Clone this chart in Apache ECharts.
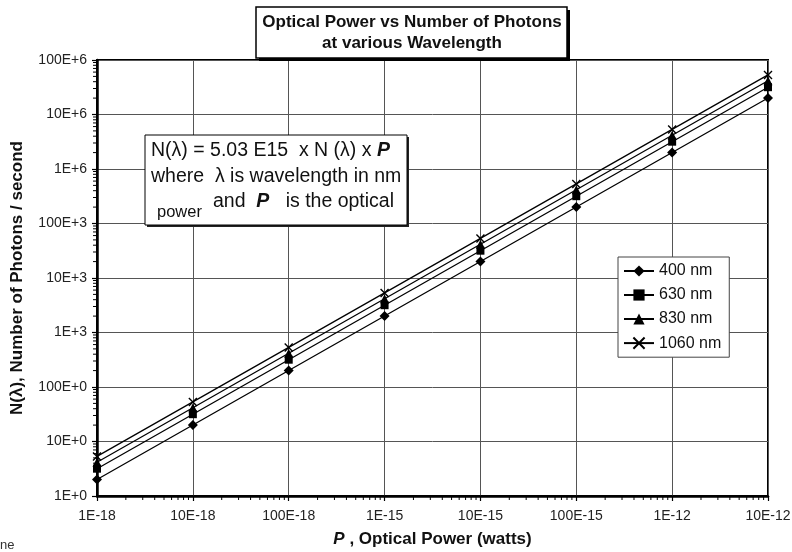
<!DOCTYPE html>
<html>
<head>
<meta charset="utf-8">
<script src="https://cdn.jsdelivr.net/npm/echarts@6/dist/echarts.min.js"></script>
<style>html,body{margin:0;padding:0;background:#fff;}#c{width:792px;height:552px;}</style>
</head>
<body>
<div id="c"></div>
<script>
// ---- data ----
const powers = [1e-18, 1e-17, 1e-16, 1e-15, 1e-14, 1e-13, 1e-12, 1e-11];
const n400  = [2.01, 20.1, 201, 2010, 20100, 201000, 2010000, 20100000];
const n630  = [3.17, 31.7, 317, 3170, 31700, 317000, 3170000, 31700000];
const n830  = [4.17, 41.7, 417, 4170, 41700, 417000, 4170000, 41700000];
const n1060 = [5.33, 53.3, 533, 5330, 53300, 533000, 5330000, 53300000];
const seriesNames = ['400 nm', '630 nm', '830 nm', '1060 nm'];
const xTickLabels = ['1E-18','10E-18','100E-18','1E-15','10E-15','100E-15','1E-12','10E-12'];
const yTickLabels = ['1E+0','10E+0','100E+0','1E+3','10E+3','100E+3','1E+6','10E+6','100E+6'];

const FONT = '"Liberation Sans", Arial, sans-serif';
const xMin = 1e-18, xMax = 1e-11, yMin = 1, yMax = 1e8;

function labelFor(v, list, base) {
  const e = Math.round(Math.log10(v));
  return list[e - base] || '';
}

// minor tick positions (2..9 within each decade)
const xMinor = [], yMinor = [];
for (let d = -18; d < -11; d++) for (let k = 2; k <= 9; k++) xMinor.push([k * Math.pow(10, d), yMin]);
for (let d = 0; d < 8; d++) for (let k = 2; k <= 9; k++) yMinor.push([xMin, k * Math.pow(10, d)]);

const chart = echarts.init(document.getElementById('c'), null, {renderer: 'canvas'});

function mk(name, data, symbol, size, extra) {
  return Object.assign({
    name: name, type: 'line',
    data: powers.map((p, i) => [p, data[i]]),
    symbol: symbol, symbolSize: size,
    showAllSymbol: true,
    clip: false,
    lineStyle: {color: '#000', width: 1.3},
    itemStyle: {color: '#000', borderColor: '#000', borderWidth: 0},
    z: 3
  }, extra || {});
}

const option = {
  animation: false,
  backgroundColor: '#fff',
  grid: {left: 97, right: 24, top: 60, bottom: 56, show: true, borderColor: '#000', borderWidth: 2,
    backgroundColor: 'transparent', containLabel: false, outerBoundsMode: 'none'},
  xAxis: {
    type: 'log', logBase: 10, min: xMin, max: xMax, splitNumber: 7,
    name: '{i|P} , Optical Power (watts)', nameLocation: 'middle', nameGap: 35,
    nameTextStyle: {fontFamily: FONT, fontSize: 17, fontWeight: 'bold', color: '#111',
      rich: {i: {fontFamily: FONT, fontSize: 17, fontWeight: 'bold', fontStyle: 'italic', color: '#111'}}},
    axisLine: {show: true, lineStyle: {color: '#000', width: 2.5}},
    axisTick: {show: true, length: 5, lineStyle: {color: '#000', width: 1.2}},
    axisLabel: {fontFamily: FONT, fontSize: 14, color: '#222', margin: 13,
      formatter: v => labelFor(v, xTickLabels, -18)},
    splitLine: {show: true, lineStyle: {color: '#555', width: 1}},
    minorTick: {show: false}
  },
  yAxis: {
    type: 'log', logBase: 10, min: yMin, max: yMax, splitNumber: 8,
    name: 'N(λ), Number of Photons / second', nameLocation: 'middle', nameGap: 71,
    nameTextStyle: {fontFamily: FONT, fontSize: 17, fontWeight: 'bold', color: '#111'},
    axisLine: {show: true, lineStyle: {color: '#000', width: 2.5}},
    axisTick: {show: true, length: 5, lineStyle: {color: '#000', width: 1.2}},
    axisLabel: {fontFamily: FONT, fontSize: 14, color: '#222', margin: 10,
      formatter: v => labelFor(v, yTickLabels, 0)},
    splitLine: {show: true, lineStyle: {color: '#555', width: 1}}
  },
  legend: {
    data: seriesNames,
    orient: 'vertical', left: 618, top: 257,
    padding: [6, 8, 6, 5],
    itemWidth: 30, itemHeight: 14, itemGap: 8,
    backgroundColor: '#fff', borderColor: '#444', borderWidth: 1,
    textStyle: {fontFamily: FONT, fontSize: 16, color: '#111'},
    selectedMode: false
  },
  series: [
    mk(seriesNames[0], n400, 'diamond', 10),
    mk(seriesNames[1], n630, 'rect', 8),
    mk(seriesNames[2], n830, 'triangle', 9),
    mk(seriesNames[3], n1060, 'path://M0,0L10,10M10,0L0,10', 8,
       {itemStyle: {color: 'none', borderColor: '#000', borderWidth: 1.4}}),
    {
      type: 'custom', silent: true, clip: false, z: 4,
      data: xMinor,
      renderItem: function (params, api) {
        const p = api.coord([api.value(0), api.value(1)]);
        return {type: 'line', shape: {x1: p[0], y1: p[1], x2: p[0], y2: p[1] + 4},
          style: {stroke: '#000', lineWidth: 1}};
      }
    },
    {
      type: 'custom', silent: true, clip: false, z: 4,
      data: yMinor,
      renderItem: function (params, api) {
        const p = api.coord([api.value(0), api.value(1)]);
        return {type: 'line', shape: {x1: p[0] - 4, y1: p[1], x2: p[0], y2: p[1]},
          style: {stroke: '#000', lineWidth: 1}};
      }
    }
  ],
  graphic: [
    // title box with shadow
    {type: 'rect', z: 10, shape: {x: 259, y: 10, width: 311, height: 51}, style: {fill: '#000'}},
    {type: 'rect', z: 11, shape: {x: 256, y: 7, width: 311, height: 51}, style: {fill: '#fff', stroke: '#000', lineWidth: 1.5}},
    {type: 'text', z: 12, style: {x: 412, y: 22, text: 'Optical Power vs Number of Photons', textAlign: 'center', textVerticalAlign: 'middle',
      font: 'bold 17px ' + FONT, fill: '#111'}},
    {type: 'text', z: 12, style: {x: 412, y: 43, text: 'at various Wavelength', textAlign: 'center', textVerticalAlign: 'middle',
      font: 'bold 17px ' + FONT, fill: '#111'}},
    // annotation box
    {type: 'rect', z: 10, shape: {x: 147, y: 137, width: 262, height: 90}, style: {fill: '#222'}},
    {type: 'rect', z: 11, shape: {x: 145, y: 135, width: 262, height: 90}, style: {fill: '#fff', stroke: '#000', lineWidth: 1}},
    {type: 'text', z: 12, style: {x: 151, y: 151, textVerticalAlign: 'middle',
      text: '{n|N(λ) = 5.03 E15  x N (λ) x }{b|P}',
      rich: {n: {fontFamily: FONT, fontSize: 19.5, fill: '#111', color: '#111'},
             b: {fontFamily: FONT, fontSize: 19.5, fontWeight: 'bold', fontStyle: 'italic', color: '#111', fill: '#111'}}}},
    {type: 'text', z: 12, style: {x: 151, y: 177, textVerticalAlign: 'middle', text: 'where  λ is wavelength in nm',
      font: '19.5px ' + FONT, fill: '#111'}},
    {type: 'text', z: 12, style: {x: 213, y: 202, textVerticalAlign: 'middle',
      text: '{n|and  }{b|P}{n|   is the optical}',
      rich: {n: {fontFamily: FONT, fontSize: 19.5, color: '#111', fill: '#111'},
             b: {fontFamily: FONT, fontSize: 19.5, fontWeight: 'bold', fontStyle: 'italic', color: '#111', fill: '#111'}}}},
    {type: 'text', z: 12, style: {x: 157, y: 212, textVerticalAlign: 'middle', text: 'power',
      font: '16.5px ' + FONT, fill: '#111'}},
    // stray fragment at bottom-left
    {type: 'text', z: 12, style: {x: 0, y: 545, textVerticalAlign: 'middle', text: 'ne', font: '13px ' + FONT, fill: '#333'}}
  ]
};
chart.setOption(option);
</script>
</body>
</html>
